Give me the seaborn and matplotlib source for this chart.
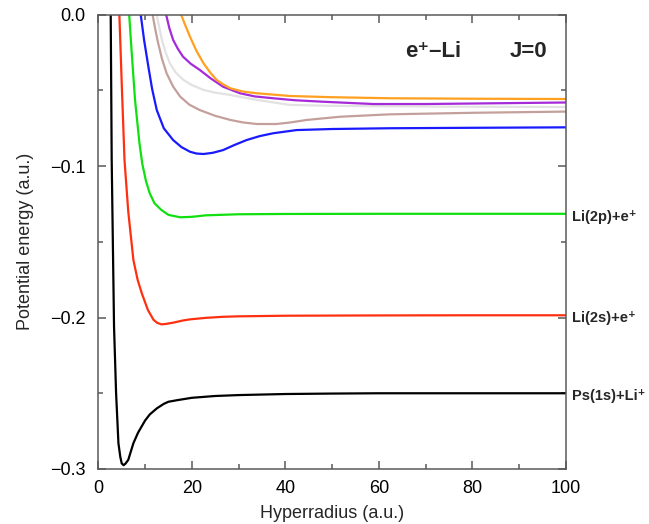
import matplotlib
matplotlib.use("Agg")
import matplotlib.pyplot as plt
import matplotlib.transforms as mtransforms
from matplotlib.ticker import MultipleLocator, FuncFormatter
import seaborn as sns

# ---- data ----
ps_x = [2.3, 2.65, 2.86, 3.15, 3.36, 3.8, 4.3, 4.7, 5.0, 5.4, 5.8, 6.4, 7.5, 8.5, 10, 11, 12.5, 14, 15, 17, 20, 25, 30, 40, 50, 60, 80, 100]
ps_y = [0.05, 0.0, -0.096, -0.16, -0.206, -0.25, -0.283, -0.292, -0.2963, -0.2975, -0.2965, -0.294, -0.283, -0.276, -0.268, -0.264, -0.26, -0.257, -0.2556, -0.2545, -0.253, -0.2518, -0.2512, -0.2505, -0.2502, -0.25, -0.25, -0.25]

r2s_x = [4.2, 4.5, 5.0, 5.6, 6.4, 7.5, 8.4, 9.3, 10.6, 11.8, 12.6, 13.5, 14.5, 16, 18, 19.6, 23, 26.7, 30, 40, 60, 80, 100]
r2s_y = [0.02, 0.0, -0.045, -0.096, -0.13, -0.162, -0.175, -0.184, -0.195, -0.2015, -0.2035, -0.2045, -0.2042, -0.2034, -0.202, -0.2012, -0.2002, -0.1995, -0.1992, -0.1988, -0.1986, -0.1985, -0.1985]

r2p_x = [6.3, 6.6, 7.1, 7.85, 8.8, 9.4, 10.2, 11, 12, 13.5, 15, 17.5, 20, 23, 30, 40, 60, 80, 100]
r2p_y = [0.02, 0.0, -0.0233, -0.0563, -0.085, -0.0985, -0.11, -0.118, -0.1245, -0.129, -0.1322, -0.1338, -0.1335, -0.1325, -0.1318, -0.1316, -0.1315, -0.1315, -0.1315]

c4_x = [8.8, 9.07, 9.8, 10.7, 11.5, 12.5, 14, 16, 17.8, 19.6, 21, 22.5, 24.5, 26.7, 29, 31.7, 34.5, 37.4, 42.4, 50, 62.4, 80, 100]
c4_y = [0.02, 0.0, -0.017, -0.0343, -0.049, -0.063, -0.075, -0.0828, -0.0875, -0.0905, -0.0917, -0.092, -0.0912, -0.0894, -0.0862, -0.0828, -0.0802, -0.0783, -0.0762, -0.0755, -0.075, -0.0747, -0.0744]

c5_x = [11.3, 11.6, 12.2, 12.8, 13.6, 14.6, 16, 17.5, 19.5, 21.7, 25, 28.2, 31, 33.9, 38.1, 41, 44.6, 51.7, 62.4, 80, 100]
c5_y = [0.02, 0.0, -0.01, -0.0189, -0.029, -0.0387, -0.0475, -0.0541, -0.0595, -0.063, -0.0668, -0.0695, -0.0712, -0.0722, -0.0722, -0.0712, -0.0695, -0.0674, -0.0658, -0.0648, -0.064]

c6_x = [12.2, 12.5, 13, 13.6, 14.4, 15.3, 16.5, 18.2, 20, 22.5, 25, 28.2, 33.9, 41, 50, 62.4, 80, 100]
c6_y = [0.02, 0.0, -0.008, -0.0167, -0.025, -0.0321, -0.038, -0.0431, -0.0465, -0.0497, -0.0515, -0.053, -0.0563, -0.0596, -0.0602, -0.0605, -0.0608, -0.061]

c7_x = [14.2, 14.5, 15.2, 16, 17, 18.1, 19.8, 21.7, 24, 26.7, 30.3, 33.5, 37.4, 42, 48.1, 58.8, 70, 85, 100]
c7_y = [0.02, 0.0, -0.009, -0.0167, -0.0225, -0.0277, -0.0325, -0.0365, -0.042, -0.0476, -0.0519, -0.054, -0.0552, -0.0565, -0.0575, -0.059, -0.059, -0.0585, -0.058]

c8_x = [17.3, 17.7, 18.6, 19.6, 21, 22.5, 24, 25.3, 26.7, 28.2, 31, 33.9, 41, 50, 62.4, 80, 100]
c8_y = [0.02, 0.0, -0.007, -0.0145, -0.024, -0.0321, -0.0385, -0.0431, -0.046, -0.0486, -0.0508, -0.0519, -0.0537, -0.0545, -0.0552, -0.0555, -0.0557]

curves = [
    (ps_x, ps_y, "#000000"),
    (r2s_x, r2s_y, "#ff3010"),
    (r2p_x, r2p_y, "#10e010"),
    (c4_x, c4_y, "#1a1aff"),
    (c5_x, c5_y, "#c4a09c"),
    (c6_x, c6_y, "#e2e2e2"),
    (c7_x, c7_y, "#a52ad8"),
    (c8_x, c8_y, "#ffa020"),
]

channel_labels = ["Li(2p)+e\u207a", "Li(2s)+e\u207a", "Ps(1s)+Li\u207a"]
channel_levels = [-0.1315, -0.1985, -0.25]

x_ticks = [0, 20, 40, 60, 80, 100]
y_ticks = [0.0, -0.1, -0.2, -0.3]

# ---- style ----
sns.set_style("ticks")
plt.rcParams["font.family"] = ["Liberation Sans", "DejaVu Sans"]

fig = plt.figure(figsize=(6.49, 5.24), dpi=100)
ax = fig.add_axes([0.1515, 0.105, 0.7205, 0.867])

for xs, ys, col in curves:
    sns.lineplot(x=xs, y=ys, color=col, lw=1.6, ax=ax, sort=False, estimator=None)

ax.set_xlim(0, 100)
ax.set_ylim(-0.3, 0.0)
ax.set_xticks(x_ticks)
ax.set_yticks(y_ticks)
ax.xaxis.set_minor_locator(MultipleLocator(10))
ax.yaxis.set_minor_locator(MultipleLocator(0.05))
ax.yaxis.set_major_formatter(FuncFormatter(lambda v, p: f"{v:.1f}".replace("-", "\u2212") if abs(v) > 1e-9 else "0.0"))

spine_col = "#5a5a5a"
for s in ax.spines.values():
    s.set_color(spine_col)
    s.set_linewidth(1.1)
ax.tick_params(which="both", direction="in", top=True, right=True, color=spine_col,
               labelsize=13, labelcolor="black")
ax.tick_params(which="major", length=6, width=1.1)
ax.tick_params(which="minor", length=3.5, width=1.1)
ax.tick_params(axis="x", which="major", pad=8)
ax.tick_params(axis="y", which="major", pad=9)

ax.set_xlabel("Hyperradius (a.u.)", fontsize=13, labelpad=6)
ax.set_ylabel("Potential energy (a.u.)", fontsize=13, labelpad=12)

ax.text(71.6, -0.0244, "e\u207a\u2013Li", fontsize=16, fontweight="bold",
        ha="center", va="center")
ax.text(91.9, -0.0244, "J=0", fontsize=16, fontweight="bold",
        ha="center", va="center")

trans = mtransforms.blended_transform_factory(ax.transAxes, ax.transData)
for lab, lev in zip(channel_labels, channel_levels):
    ax.text(1.012, lev - 0.002, lab, transform=trans, fontsize=10.5,
            fontweight="bold", ha="left", va="center", clip_on=False)

fig.savefig("out.png", dpi=100)
